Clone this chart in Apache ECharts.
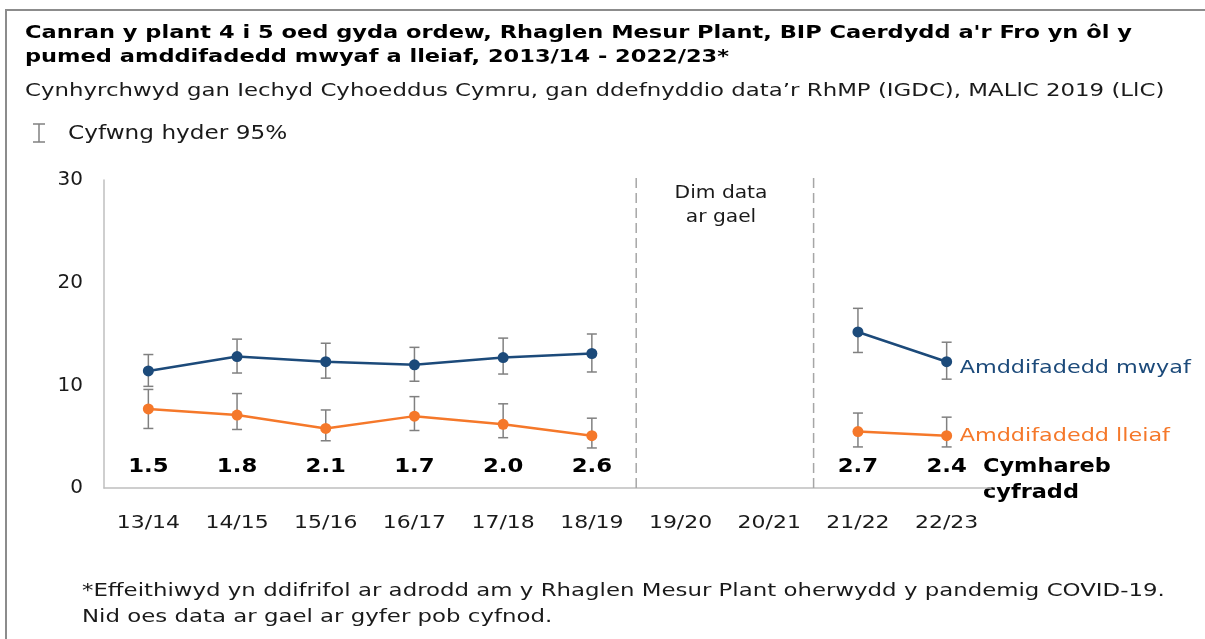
<!DOCTYPE html>
<html>
<head>
<meta charset="utf-8">
<script src="https://cdn.jsdelivr.net/npm/echarts@6/dist/echarts.min.js"></script>
<style>
  html, body { margin: 0; padding: 0; background: #fff; }
  #chart { width: 1205px; height: 639px; }
</style>
</head>
<body>
<div id="chart"></div>
<script>
  // data
  var years = ['13/14', '14/15', '15/16', '16/17', '17/18', '18/19', '19/20', '20/21', '21/22', '22/23'];
  var mostDeprived = [11.4, 12.8, 12.3, 12.0, 12.7, 13.1, null, null, 15.2, 12.3];
  var mostLow = [9.9, 11.2, 10.7, 10.4, 11.1, 11.3, null, null, 13.2, 10.6];
  var mostHigh = [13.0, 14.5, 14.1, 13.7, 14.6, 15.0, null, null, 17.5, 14.2];
  var leastDeprived = [7.7, 7.1, 5.8, 7.0, 6.2, 5.1, null, null, 5.5, 5.1];
  var leastLow = [5.8, 5.7, 4.6, 5.6, 4.9, 3.9, null, null, 4.0, 4.0];
  var leastHigh = [9.6, 9.2, 7.6, 8.9, 8.2, 6.8, null, null, 7.3, 6.9];
  var rateRatio = ['1.5', '1.8', '2.1', '1.7', '2.0', '2.6', null, null, '2.7', '2.4'];
  var dividerAfter = [5, 7];

  var FONT = '"DejaVu Sans", Verdana, sans-serif';
  var BLUE = '#1c4a7a';
  var ORANGE = '#f5782a';
  var GREY = '#808080';
  var TEXT = '#1a1a1a';

  var chart = echarts.init(document.getElementById('chart'));

  function errData(low, high) {
    var out = [];
    low.forEach(function (v, i) {
      if (v != null) out.push([i, v, high[i]]);
    });
    return out;
  }

  function renderErr(params, api) {
    var lo = api.coord([api.value(0), api.value(1)]);
    var hi = api.coord([api.value(0), api.value(2)]);
    var w = 5;
    var style = { stroke: GREY, lineWidth: 1.5 };
    return {
      type: 'group',
      children: [
        { type: 'line', shape: { x1: lo[0], y1: lo[1], x2: hi[0], y2: hi[1] }, style: style },
        { type: 'line', shape: { x1: lo[0] - w, y1: lo[1], x2: lo[0] + w, y2: lo[1] }, style: style },
        { type: 'line', shape: { x1: hi[0] - w, y1: hi[1], x2: hi[0] + w, y2: hi[1] }, style: style }
      ]
    };
  }

  // the reference font runs wider than DejaVu, so texts get a horizontal stretch
  function stretchedText(x, y, text, font, fill, sx, align, lineHeight) {
    return {
      type: 'text',
      x: x,
      y: y,
      scaleX: sx,
      originX: 0,
      originY: 0,
      silent: true,
      style: {
        text: text,
        font: font,
        fill: fill,
        align: align || 'left',
        verticalAlign: 'middle',
        lineHeight: lineHeight
      }
    };
  }

  // centred variant: scale round the anchor point
  function centredText(cx, y, text, font, fill, sx, lineHeight) {
    var el = stretchedText(0, y, text, font, fill, sx, 'center', lineHeight);
    el.style.x = cx;
    el.originX = cx;
    return el;
  }

  var ratioData = [];
  rateRatio.forEach(function (r, i) {
    if (r != null) ratioData.push([i, 0, r]);
  });
  var yearData = years.map(function (y, i) { return [i, 0]; });
  var endData = [
    [9, mostDeprived[9], 'Amddifadedd mwyaf', BLUE, 7],
    [9, leastDeprived[9], 'Amddifadedd lleiaf', ORANGE, 1]
  ];

  var option = {
    animation: false,
    textStyle: { fontFamily: FONT },
    grid: { left: 104, right: 214, top: 180, bottom: 151 },
    xAxis: {
      type: 'category',
      data: years,
      boundaryGap: true,
      axisLine: { lineStyle: { color: '#bfbfbf', width: 1.5 } },
      axisTick: { show: false },
      axisLabel: { show: false }
    },
    yAxis: {
      type: 'value',
      min: 0,
      max: 30,
      interval: 10,
      axisLine: { show: true, lineStyle: { color: '#bfbfbf', width: 1.5 } },
      axisTick: { show: false },
      splitLine: { show: false },
      axisLabel: { fontFamily: FONT, fontSize: 20, color: TEXT, margin: 21 }
    },
    series: [
      {
        type: 'custom',
        name: 'dividers',
        data: dividerAfter.map(function (d) { return [d, 0]; }),
        silent: true,
        renderItem: function (params, api) {
          var idx = api.value(0);
          var band = api.size([1, 0])[0];
          var top = api.coord([idx, 30]);
          var bot = api.coord([idx, 0]);
          var x = top[0] + band / 2;
          return {
            type: 'line',
            shape: { x1: x, y1: top[1] - 2, x2: x, y2: bot[1] + 4 },
            style: { stroke: '#a6a6a6', lineWidth: 1.5, lineDash: [10, 5] }
          };
        }
      },
      {
        type: 'custom',
        name: 'xlabels',
        data: yearData,
        silent: true,
        renderItem: function (params, api) {
          var p = api.coord([api.value(0), 0]);
          return centredText(p[0], p[1] + 35, years[params.dataIndex], '18px ' + FONT, TEXT, 1.22);
        }
      },
      {
        type: 'custom',
        name: 'err-most',
        data: errData(mostLow, mostHigh),
        renderItem: renderErr,
        z: 1
      },
      {
        type: 'custom',
        name: 'err-least',
        data: errData(leastLow, leastHigh),
        renderItem: renderErr,
        z: 1
      },
      {
        type: 'line',
        name: 'Amddifadedd mwyaf',
        data: mostDeprived,
        connectNulls: false,
        symbol: 'circle',
        symbolSize: 11,
        itemStyle: { color: BLUE },
        lineStyle: { color: BLUE, width: 2.5 },
        z: 3
      },
      {
        type: 'line',
        name: 'Amddifadedd lleiaf',
        data: leastDeprived,
        connectNulls: false,
        symbol: 'circle',
        symbolSize: 11,
        itemStyle: { color: ORANGE },
        lineStyle: { color: ORANGE, width: 2.5 },
        z: 3
      },
      {
        type: 'custom',
        name: 'endlabels',
        data: endData.map(function (d) { return [d[0], d[1]]; }),
        silent: true,
        renderItem: function (params, api) {
          var d = endData[params.dataIndex];
          var p = api.coord([api.value(0), api.value(1)]);
          return stretchedText(p[0] + 13, p[1] + d[4], d[2], '18px ' + FONT, d[3], 1.24);
        }
      },
      {
        type: 'custom',
        name: 'ratio',
        data: ratioData.map(function (d) { return [d[0], d[1]]; }),
        silent: true,
        renderItem: function (params, api) {
          var p = api.coord([api.value(0), 0]);
          return centredText(p[0], p[1] - 21, ratioData[params.dataIndex][2], 'bold 20px ' + FONT, '#000', 1.14);
        }
      }
    ],
    graphic: [
      {
        type: 'rect',
        shape: { x: 6, y: 10, width: 1220, height: 700 },
        style: { fill: 'none', stroke: '#8c8c8c', lineWidth: 2 },
        silent: true
      },
      stretchedText(25, 33, "Canran y plant 4 i 5 oed gyda ordew, Rhaglen Mesur Plant, BIP Caerdydd a'r Fro yn ôl y", 'bold 18px ' + FONT, '#000', 1.25),
      stretchedText(25, 57, 'pumed amddifadedd mwyaf a lleiaf, 2013/14 - 2022/23*', 'bold 18px ' + FONT, '#000', 1.25),
      stretchedText(25, 91, 'Cynhyrchwyd gan Iechyd Cyhoeddus Cymru, gan ddefnyddio data’r RhMP (IGDC), MALlC 2019 (LlC)', '18px ' + FONT, TEXT, 1.27),
      {
        type: 'group',
        x: 32,
        y: 124,
        silent: true,
        children: [
          { type: 'line', shape: { x1: 7, y1: 0, x2: 7, y2: 18 }, style: { stroke: GREY, lineWidth: 1.5 } },
          { type: 'line', shape: { x1: 1, y1: 0, x2: 13, y2: 0 }, style: { stroke: GREY, lineWidth: 1.5 } },
          { type: 'line', shape: { x1: 1, y1: 18, x2: 13, y2: 18 }, style: { stroke: GREY, lineWidth: 1.5 } }
        ]
      },
      stretchedText(68, 134, 'Cyfwng hyder 95%', '19px ' + FONT, TEXT, 1.22),
      centredText(721, 206, 'Dim data\nar gael', '17px ' + FONT, TEXT, 1.19, 24),
      stretchedText(983, 480, 'Cymhareb\ncyfradd', 'bold 19px ' + FONT, '#000', 1.18, 'left', 26),
      stretchedText(82, 604, '*Effeithiwyd yn ddifrifol ar adrodd am y Rhaglen Mesur Plant oherwydd y pandemig COVID-19.\nNid oes data ar gael ar gyfer pob cyfnod.', '18px ' + FONT, TEXT, 1.27, 'left', 26)
    ]
  };

  chart.setOption(option);
</script>
</body>
</html>
